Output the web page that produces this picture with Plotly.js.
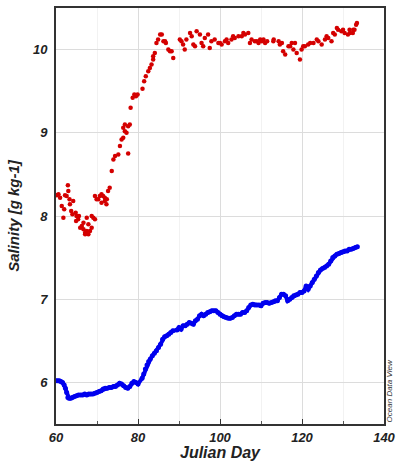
<!DOCTYPE html>
<html>
<head>
<meta charset="utf-8">
<script src="https://cdn.plot.ly/plotly-3.0.1.min.js"></script>
<style>html,body{margin:0;padding:0;background:#fff;}#chart{width:396px;height:461px;}</style>
</head>
<body>
<div id="chart"></div>
<script>
// Upper (red) series: Julian day and salinity
var redDay = [60.2,60.6,61.0,61.4,61.8,62.0,62.2,62.6,62.9,63.0,63.3,63.4,63.7,64.0,64.2,64.8,64.9,65.0,65.4,65.6,65.9,66.3,66.7,66.7,67.1,67.1,67.5,67.5,67.9,67.9,68.3,68.7,68.7,69.1,69.5,69.5,69.9,70.3,70.7,71.1,71.1,71.5,71.9,71.9,72.3,72.4,72.7,73.1,73.6,74.0,74.4,75.2,75.6,76.0,76.4,76.4,76.8,76.8,77.2,77.6,77.6,78.0,78.2,78.7,79.1,79.5,79.9,81.1,81.5,81.9,82.5,82.9,83.3,83.7,83.7,84.1,84.5,84.9,85.4,85.8,86.2,86.6,86.8,87.4,87.8,88.2,88.6,90.2,90.6,91.0,91.4,91.8,92.7,93.1,93.5,93.9,94.3,95.1,95.5,95.9,96.3,97.1,97.5,97.9,98.7,99.6,100.0,100.4,101.2,101.6,102.0,102.8,103.2,103.6,104.5,105.3,105.7,106.1,106.9,107.3,107.7,108.5,109.0,109.4,109.8,110.2,110.6,111.0,111.5,113.0,113.1,114.3,114.6,115.1,115.4,115.9,116.7,117.1,117.5,117.9,118.3,118.7,119.5,119.9,120.3,120.7,121.5,122.0,122.8,123.6,124.0,124.8,125.6,126.0,126.4,127.2,127.6,128.0,128.5,128.8,129.6,130.0,130.4,131.2,131.6,131.7,132.4,132.5,132.8,133.2,133.4];
var redSal = [8.25,8.26,8.22,8.12,7.98,8.08,8.25,8.24,8.37,8.30,8.20,8.14,8.06,8.02,8.18,8.04,7.94,8.00,7.96,8.00,7.86,7.88,7.92,7.84,7.78,7.80,7.98,7.82,7.90,7.78,7.82,8.00,7.86,7.98,7.96,8.24,8.20,8.20,8.24,8.26,8.16,8.24,8.22,8.18,8.14,8.20,8.30,8.34,8.54,8.68,8.72,8.74,8.84,8.92,8.94,9.06,9.02,9.10,9.00,8.75,9.08,9.10,9.30,9.42,9.46,9.44,9.46,9.53,9.62,9.68,9.74,9.78,9.82,9.88,9.92,9.96,10.08,10.12,10.18,10.18,10.10,10.10,10.08,10.00,9.98,9.98,9.90,10.12,10.10,10.06,10.00,10.12,10.20,10.16,10.06,10.04,10.22,10.18,10.08,10.04,10.14,10.18,10.02,10.10,10.12,10.08,10.08,10.06,10.10,10.12,10.08,10.12,10.16,10.14,10.16,10.16,10.20,10.18,10.20,10.08,10.12,10.10,10.10,10.08,10.12,10.10,10.12,10.08,10.10,10.10,10.12,10.10,10.06,10.08,9.98,9.94,10.04,10.04,10.08,10.00,10.08,9.96,9.88,10.00,10.04,10.04,10.06,10.08,10.08,10.12,10.10,10.06,10.12,10.16,10.14,10.10,10.20,10.18,10.26,10.24,10.22,10.24,10.20,10.18,10.24,10.20,10.20,10.24,10.24,10.30,10.32];

// Lower (blue) series: Julian day and salinity
var blueDay = [60.0,60.4,60.8,61.2,61.6,62.0,62.3,62.6,62.9,63.2,63.6,64.0,64.5,65.0,65.5,66.0,66.5,67.0,67.5,68.0,68.5,69.0,69.5,70.0,70.5,71.0,71.5,72.0,72.5,73.0,73.5,74.0,74.5,75.0,75.5,76.0,76.5,77.0,77.5,78.0,78.5,79.0,79.5,80.0,81.0,81.4,81.8,82.2,82.6,83.0,83.5,84.0,84.5,85.0,85.5,86.0,86.5,87.0,87.5,88.0,88.5,89.5,90.0,90.5,91.0,91.5,92.0,92.5,93.0,93.5,94.0,94.5,95.0,95.5,96.0,96.5,97.0,97.5,98.0,98.5,99.0,99.5,100.0,100.5,101.0,101.5,102.0,102.5,103.0,103.5,104.0,104.5,105.0,105.5,106.0,106.5,107.0,107.5,108.0,108.5,109.0,109.5,110.0,110.5,111.0,111.5,112.0,112.5,113.0,113.5,114.0,114.5,115.0,115.5,116.0,116.5,117.0,117.5,118.0,118.5,119.0,119.5,120.0,120.5,121.0,121.5,122.0,122.5,123.0,123.5,124.0,124.5,125.0,125.5,126.0,126.5,127.0,127.5,128.0,128.5,129.0,129.5,130.0,130.5,131.0,131.5,132.0,132.5,133.0,133.5];
var blueSal = [6.02,6.02,6.02,6.01,6.00,5.97,5.93,5.88,5.82,5.81,5.81,5.82,5.83,5.84,5.85,5.85,5.85,5.86,5.85,5.86,5.86,5.86,5.87,5.88,5.89,5.90,5.92,5.93,5.93,5.94,5.94,5.95,5.95,5.97,5.99,5.98,5.96,5.94,5.93,5.95,5.99,6.01,6.00,5.98,6.05,6.10,6.16,6.21,6.25,6.28,6.32,6.35,6.38,6.42,6.46,6.52,6.55,6.56,6.58,6.60,6.62,6.63,6.66,6.64,6.68,6.68,6.70,6.72,6.71,6.70,6.74,6.76,6.80,6.82,6.80,6.82,6.84,6.85,6.86,6.86,6.86,6.84,6.82,6.80,6.79,6.78,6.77,6.77,6.78,6.80,6.82,6.82,6.82,6.84,6.84,6.86,6.90,6.93,6.94,6.93,6.93,6.93,6.92,6.95,6.96,6.96,6.95,6.96,6.97,6.98,6.98,7.02,7.06,7.06,7.04,6.98,7.00,7.02,7.04,7.05,7.06,7.08,7.08,7.10,7.16,7.12,7.16,7.20,7.24,7.28,7.32,7.35,7.37,7.38,7.40,7.42,7.46,7.50,7.52,7.54,7.55,7.56,7.57,7.58,7.58,7.60,7.60,7.61,7.62,7.63];

var xTicks = [60, 80, 100, 120, 140];
var yTicks = [6, 7, 8, 9, 10];

var FONT = '"Liberation Sans", Arial, sans-serif';

var traces = [
  {x: redDay, y: redSal, type: 'scatter', mode: 'markers',
   marker: {color: '#d40000', size: 4.5}, hoverinfo: 'x+y'},
  {x: blueDay, y: blueSal, type: 'scatter', mode: 'lines+markers',
   line: {color: '#0000ee', width: 4}, marker: {color: '#0000ee', size: 5}, hoverinfo: 'x+y'}
];

var layout = {
  width: 396, height: 461,
  margin: {l: 56, r: 12, t: 8, b: 37},
  paper_bgcolor: '#ffffff', plot_bgcolor: '#ffffff',
  showlegend: false,
  font: {family: FONT, color: '#222'},
  xaxis: {
    range: [60, 140], tickvals: xTicks, ticktext: xTicks.map(String),
    showgrid: true, gridcolor: '#dcdcdc', gridwidth: 1,
    zeroline: false, showline: true, linecolor: '#333', linewidth: 2, mirror: true,
    ticks: 'inside', ticklen: 5, tickcolor: '#333',
    minor: {dtick: 10, tick0: 0, ticks: 'inside', ticklen: 3, tickcolor: '#555', showgrid: true, gridcolor: '#f2f2f2'},
    tickfont: {family: FONT, size: 13, color: '#222', weight: 'bold', style: 'italic'},
    title: {text: 'Julian Day', standoff: 2, font: {family: FONT, size: 16, color: '#222', weight: 'bold', style: 'italic'}}
  },
  yaxis: {
    range: [5.5, 10.5], tickvals: yTicks, ticktext: yTicks.map(String),
    showgrid: true, gridcolor: '#dcdcdc', gridwidth: 1,
    zeroline: false, showline: true, linecolor: '#333', linewidth: 2, mirror: true,
    ticks: '', ticklabelstandoff: 4,
    tickfont: {family: FONT, size: 13, color: '#222', weight: 'bold', style: 'italic'},
    title: {text: 'Salinity [g kg-1]', standoff: 10, font: {family: FONT, size: 15, color: '#222', weight: 'bold', style: 'italic'}}
  },
  annotations: [
    {text: 'Ocean Data View', xref: 'paper', yref: 'paper', x: 1.018, y: 0.0,
     xanchor: 'center', yanchor: 'bottom', textangle: -90, showarrow: false,
     font: {family: FONT, size: 8, color: '#333', style: 'italic'}}
  ]
};

Plotly.newPlot('chart', traces, layout, {displayModeBar: false, staticPlot: true});
</script>
</body>
</html>
